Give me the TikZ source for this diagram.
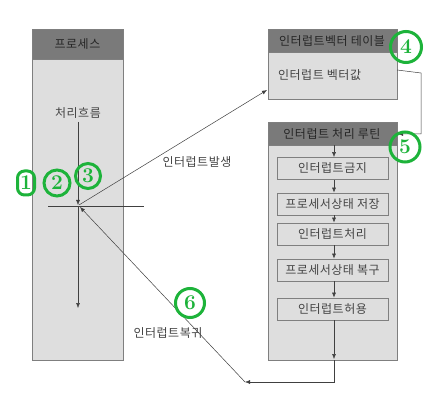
\documentclass[tikz,border=0pt]{standalone}
\usepackage{fontspec}
\newfontfamily\kr{Noto Sans CJK KR}[LetterSpace=4]
\usetikzlibrary{arrows.meta}
\definecolor{hdr}{HTML}{7A7A7A}
\definecolor{bodyc}{HTML}{DEDEDE}
\definecolor{edgec}{HTML}{7F7F7F}
\definecolor{txt}{HTML}{444444}
\definecolor{grn}{HTML}{1DB33A}
\tikzset{
  panel/.style={draw=edgec, fill=bodyc, line width=0.8pt},
  hdrbox/.style={draw=edgec, fill=hdr, line width=0.8pt},
  stepbox/.style={draw=edgec, fill=bodyc, line width=0.8pt, minimum width=111pt, minimum height=22pt, inner sep=0pt, font=\kr\fontsize{12}{13}\selectfont, text=txt},
  lbl/.style={font=\kr\fontsize{12}{13}\selectfont, text=txt, inner sep=0pt},
  hlbl/.style={font=\kr\fontsize{12}{13}\selectfont, text=black!85, inner sep=0pt},
  flow/.style={draw=black!75, line width=0.5pt, -{Latex[length=5pt,width=4pt]}},
  thin/.style={draw=black!75, line width=0.5pt},
  greenmark/.style={draw=grn, line width=3pt, text=grn, font=\bfseries\fontsize{21}{21}\selectfont, inner sep=0pt}
}
\begin{document}
\begin{tikzpicture}[x=1pt,y=-1pt]
\useasboundingbox (0,0) rectangle (447,406);
\fill[white] (0,0) rectangle (447,406);
% process
\draw[panel] (32,29) rectangle (123,360);
\draw[hdrbox] (32,29) rectangle (123,59);
\node[hlbl] (proc) at (77.5,44) {프로세스};
\node[lbl] (flowlbl) at (78,113) {처리흐름};
\coordinate (ftop) at (78,122);
\coordinate (fbot) at (78,308);
\coordinate (cross) at (78,206);
\coordinate (hl) at (48,206);
\coordinate (hr) at (144,206);
\draw[thin] (hl) -- (hr);
\draw[flow] (ftop) -- (78,205);
\draw[flow] (78,206) -- (fbot);
% vector table
\draw[panel] (268,29) rectangle (397,99);
\draw[hdrbox] (268,29) rectangle (397,52);
\node[hlbl] (vth) at (332,41) {인터럽트벡터 테이블};
\node[lbl, anchor=west] (vtv) at (278,75) {인터럽트 벡터값};
% routine
\draw[panel] (268,122) rectangle (397,360);
\draw[hdrbox] (268,122) rectangle (397,145);
\node[hlbl] (rth) at (332,134) {인터럽트 처리 루틴};
\coordinate (rtop) at (334,145);
\coordinate (rbot) at (334,360);
\node[stepbox] (s1) at (332.5,168.5) {인터럽트금지};
\node[stepbox] (s2) at (332.5,204) {프로세서상태 저장};
\node[stepbox] (s3) at (332.5,234) {인터럽트처리};
\node[stepbox] (s4) at (332.5,270) {프로세서상태 복구};
\node[stepbox] (s5) at (332.5,309) {인터럽트허용};
\draw[flow] (rtop) -- (s1.north -| rtop);
\draw[flow] (s1.south -| rtop) -- (s2.north -| rtop);
\draw[flow] (s2.south -| rtop) -- (s3.north -| rtop);
\draw[flow] (s3.south -| rtop) -- (s4.north -| rtop);
\draw[flow] (s4.south -| rtop) -- (s5.north -| rtop);
\draw[flow] (s5.south -| rtop) -- (334,359);
% vector -> routine
\coordinate (vout) at (397,70);
\coordinate (vr1) at (421,73);
\coordinate (vr2) at (421,134);
\coordinate (rin) at (398,134);
\draw[flow] (vout) -- (vr1) -- (vr2) -- (rin);
% interrupt occurs
\coordinate (vin) at (267,90);
\draw[flow] (79,205) -- (vin);
\node[lbl] (occ) at (197,162) {인터럽트발생};
% return
\coordinate (b1) at (334,382);
\coordinate (b2) at (245,382);
\draw[flow] (rbot) -- (b1) -- (b2);
\draw[flow] (b2) -- (80,207);
\node[lbl] (ret) at (168,333) {인터럽트복귀};
% green marks
\node[greenmark, rounded corners=7pt, minimum width=17pt, minimum height=24pt] (m1) at (26,183) {1};
\node[greenmark, circle, minimum size=26pt] (m2) at (57,183) {2};
\node[greenmark, circle, minimum size=25pt] (m3) at (88,176) {3};
\node[greenmark, circle, minimum size=31pt] (m4) at (406,47) {4};
\node[greenmark, circle, minimum size=30pt] (m5) at (405,147) {5};
\node[greenmark, circle, minimum size=29pt] (m6) at (190,303) {6};
\end{tikzpicture}
\end{document}
